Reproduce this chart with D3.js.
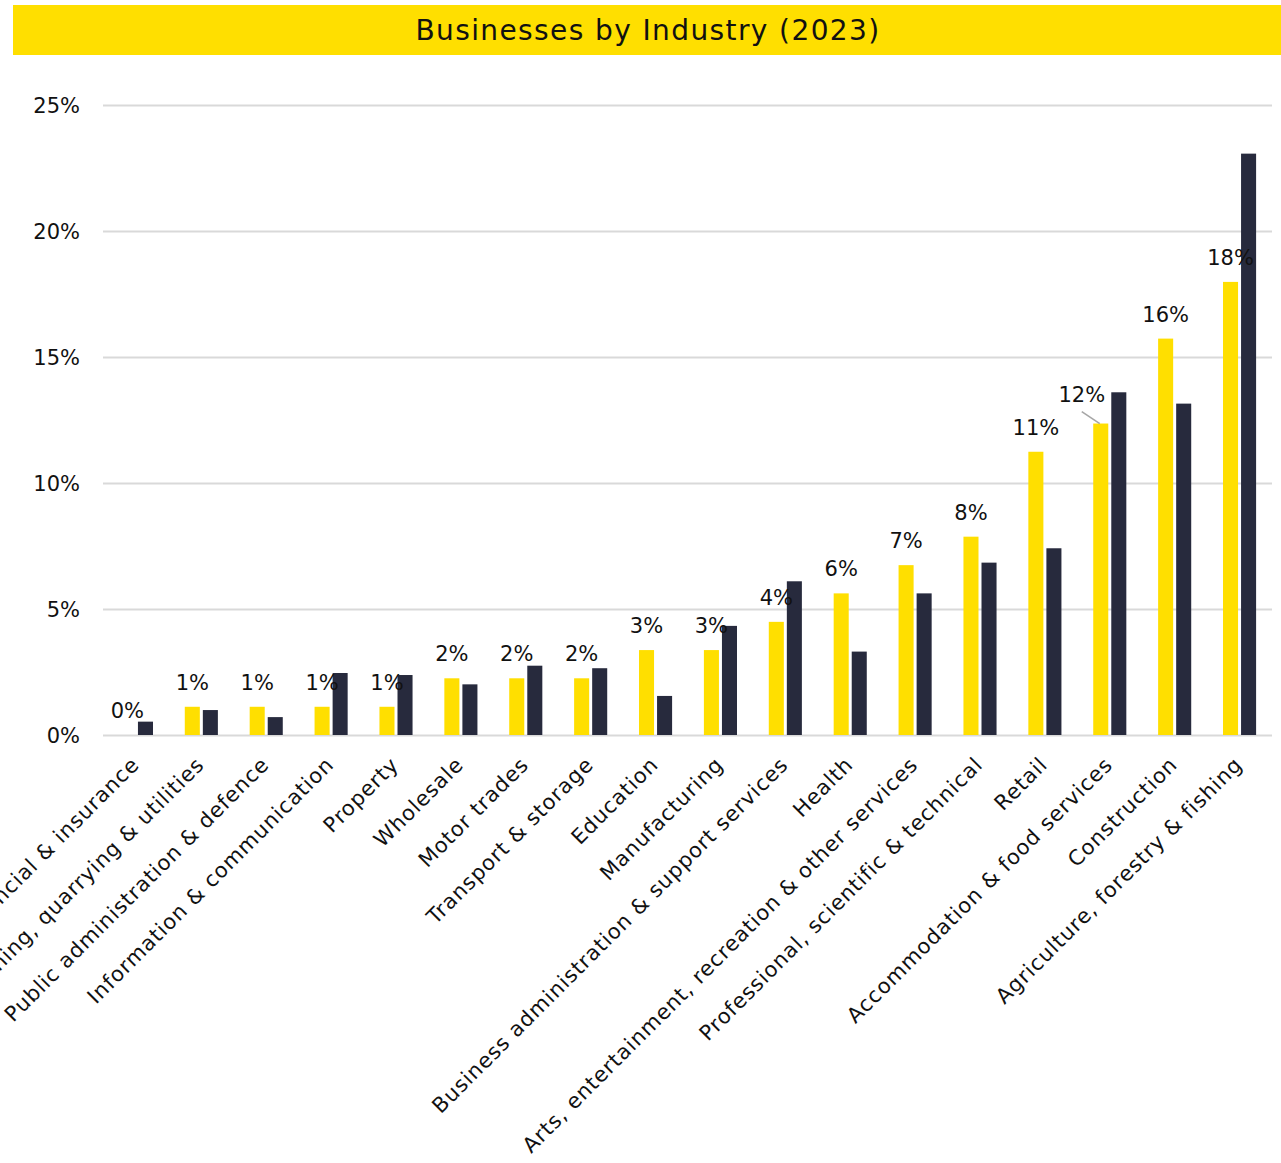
<!DOCTYPE html>
<html>
<head>
<meta charset="utf-8">
<script src="https://cdn.jsdelivr.net/npm/d3@7"></script>
<style>
  html, body { margin: 0; padding: 0; background: #ffffff; }
  svg { display: block; }
  text { font-family: "DejaVu Sans", "Noto Sans", sans-serif; fill: #111111; }
</style>
</head>
<body>
<div id="chart"></div>
<script>
// Industry categories, ordered by share of local businesses
const categories = [
  "Financial & insurance",
  "Mining, quarrying & utilities",
  "Public administration & defence",
  "Information & communication",
  "Property",
  "Wholesale",
  "Motor trades",
  "Transport & storage",
  "Education",
  "Manufacturing",
  "Business administration & support services",
  "Health",
  "Arts, entertainment, recreation & other services",
  "Professional, scientific & technical",
  "Retail",
  "Accommodation & food services",
  "Construction",
  "Agriculture, forestry & fishing"
];

// Share of businesses (%) – local area (labelled series)
const localShare = [0, 1.12, 1.12, 1.12, 1.12, 2.25, 2.25, 2.25, 3.37, 3.37, 4.49, 5.62, 6.74, 7.87, 11.24, 12.36, 15.73, 17.98];

// Share of businesses (%) – comparison area
const comparisonShare = [0.53, 0.99, 0.71, 2.46, 2.38, 2.01, 2.75, 2.65, 1.55, 4.33, 6.10, 3.31, 5.62, 6.84, 7.41, 13.60, 13.15, 23.07];

// Y-axis ticks (%)
const yTicks = [0, 5, 10, 15, 20, 25];

const title = "Businesses by Industry (2023)";

const W = 1281, H = 1163;
const YELLOW = "#FFDF00", NAVY = "#272A3D", GRID = "#d9d9d9";

const svg = d3.select("#chart").append("svg")
  .attr("width", W).attr("height", H);

// Title banner
svg.append("rect")
  .attr("x", 13).attr("y", 5).attr("width", W - 13).attr("height", 50)
  .attr("fill", YELLOW);
svg.append("text")
  .attr("x", (13 + W) / 2 + 1).attr("y", 40)
  .attr("text-anchor", "middle")
  .style("font-size", "28px")
  .style("letter-spacing", "1.4px")
  .text(title);

const plot = { left: 104, right: 1272, top: 105, bottom: 735 };

const x = d3.scaleBand()
  .domain(categories)
  .range([plot.left, plot.right])
  .paddingInner(0.49).paddingOuter(0.245);

const x1 = d3.scaleBand()
  .domain(["local", "comparison"])
  .range([0, x.bandwidth()])
  .paddingInner(0.1667);

const y = d3.scaleLinear().domain([0, 25]).range([plot.bottom, plot.top]);

// Gridlines and y labels
const yAxis = d3.axisLeft(y)
  .tickValues(yTicks)
  .tickSize(-(plot.right - plot.left + 1))
  .tickPadding(23)
  .tickFormat(d => d + "%");

const gy = svg.append("g")
  .attr("transform", `translate(${plot.left - 1},0)`)
  .call(yAxis);
gy.select(".domain").remove();
gy.selectAll(".tick line").attr("stroke", GRID).attr("stroke-width", 2);
gy.selectAll(".tick text")
  .style("font-size", "21px")
  .attr("fill", "#111111")
  .attr("dy", "0.35em");

// Bars
const groups = svg.append("g").selectAll("g")
  .data(categories)
  .join("g")
  .attr("transform", d => `translate(${x(d)},0)`);

groups.append("rect")
  .attr("x", x1("local"))
  .attr("width", x1.bandwidth())
  .attr("y", (d, i) => y(localShare[i]))
  .attr("height", (d, i) => y(0) - y(localShare[i]))
  .attr("fill", YELLOW);

groups.append("rect")
  .attr("x", x1("comparison"))
  .attr("width", x1.bandwidth())
  .attr("y", (d, i) => y(comparisonShare[i]))
  .attr("height", (d, i) => y(0) - y(comparisonShare[i]))
  .attr("fill", NAVY);

// Value labels on the local series
const fmt = v => d3.format(".0f")(v) + "%";
const labelShift = { "Accommodation & food services": [-19, -5] };

categories.forEach((c, i) => {
  const cx = x(c) + x1("local") + x1.bandwidth() / 2;
  const top = y(localShare[i]);
  const shift = labelShift[c] || [0, 0];
  const lx = cx + shift[0], ly = top - 17 + shift[1];
  if (labelShift[c]) {
    svg.append("line")
      .attr("x1", lx).attr("y1", ly + 10)
      .attr("x2", cx - 1).attr("y2", top)
      .attr("stroke", "#a6a6a6").attr("stroke-width", 1.5);
  }
  svg.append("text")
    .attr("x", lx).attr("y", ly)
    .attr("text-anchor", "middle")
    .style("font-size", "21px")
    .text(fmt(localShare[i]));
});

// Rotated category labels
const gx = svg.append("g")
  .attr("transform", `translate(0,${plot.bottom})`)
  .call(d3.axisBottom(x).tickSize(0).tickPadding(0));
gx.select(".domain").remove();
gx.selectAll(".tick text")
  .style("font-size", "21px")
  .style("letter-spacing", "0.9px")
  .attr("fill", "#111111")
  .attr("text-anchor", "end")
  .attr("dy", null)
  .attr("transform", "translate(4,31) rotate(-45)");
</script>
</body>
</html>
